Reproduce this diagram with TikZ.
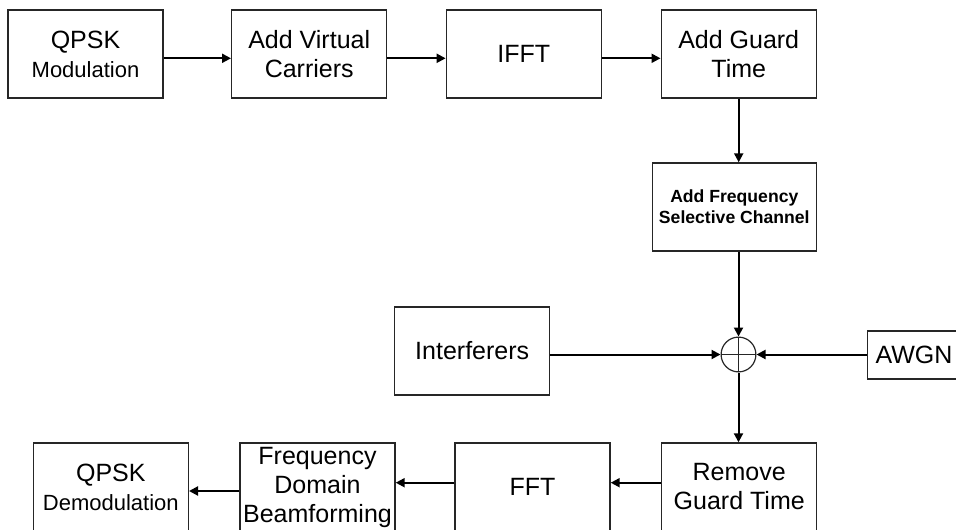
\documentclass[tikz,border=0pt]{standalone}
\usepackage{fontspec}
\setmainfont{Liberation Sans}
\usetikzlibrary{arrows.meta}

\newcommand{\smalltxt}{\fontsize{11}{13}\selectfont}

\begin{document}
\begin{tikzpicture}[x=0.5pt, y=-0.5pt,
  blk/.style={draw=black!85, line width=0.7pt, minimum width=77.5pt,
    minimum height=44pt, inner sep=0pt, align=center,
    font=\fontsize{12.5}{14.5}\selectfont},
  arr/.style={line width=1pt, -{Triangle[length=4.5pt,width=4.5pt]}},
  summer/.style={draw=black!85, circle, line width=0.6pt, minimum size=17.4pt,
    inner sep=0pt, path picture={
      \draw[line width=0.5pt] (path picture bounding box.north) -- (path picture bounding box.south);
      \draw[line width=0.5pt] (path picture bounding box.west) -- (path picture bounding box.east);}}]
  \useasboundingbox (0,0) rectangle (956,529);
  % --- transmitter chain (top row) ---
  \node[blk] (qmod) at (85.5,54)  {QPSK\\{\smalltxt Modulation}};
  \node[blk] (avc)  at (309.2,54) {Add Virtual\\Carriers};
  \node[blk] (ifft) at (523.8,54) {IFFT};
  \node[blk] (agt)  at (738.7,54) {Add Guard\\Time};
  % --- channel ---
  \node[blk, minimum width=82pt, font=\fontsize{8.8}{10.5}\selectfont\bfseries]
    (afsc) at (734.3,207) {Add Frequency\\Selective Channel};
  \node[summer] (sum) at (738.5,354.5) {};
  \node[blk] (intf) at (472.2,351) {Interferers};
  \node[blk, minimum width=46.5pt, minimum height=24pt] (awgn) at (914,355) {AWGN};
  % --- receiver chain (bottom row) ---
  \node[blk] (rgt)  at (739.2,487) {Remove\\Guard Time};
  \node[blk] (fft)  at (532.5,487) {FFT};
  \node[blk] (fdb)  at (317.5,487) {Frequency\\Domain\\Beamforming};
  \node[blk] (qdem) at (110.8,487) {QPSK\\{\smalltxt Demodulation}};
  % --- connectors ---
  \draw[arr] ([yshift=-2.15pt]qmod.east) -- ([yshift=-2.15pt]avc.west);
  \draw[arr] ([yshift=-2.15pt]avc.east) -- ([yshift=-2.15pt]ifft.west);
  \draw[arr] ([yshift=-2.15pt]ifft.east) -- ([yshift=-2.15pt]agt.west);
  \draw[arr] (agt.south) -- (agt.south |- afsc.north);
  \draw[arr] (afsc.south -| sum) -- (sum.north);
  \draw[arr] (intf.east |- sum) -- (sum.west);
  \draw[arr] (awgn.west |- sum) -- (sum.east);
  \draw[arr] (sum.south) -- (sum |- rgt.north);
  \draw[arr] ([yshift=2.15pt]rgt.west) -- ([yshift=2.15pt]fft.east);
  \draw[arr] ([yshift=2.15pt]fft.west) -- ([yshift=2.15pt]fdb.east);
  \draw[arr] ([yshift=-2pt]fdb.west) -- ([yshift=-2pt]qdem.east);
\end{tikzpicture}
\end{document}
